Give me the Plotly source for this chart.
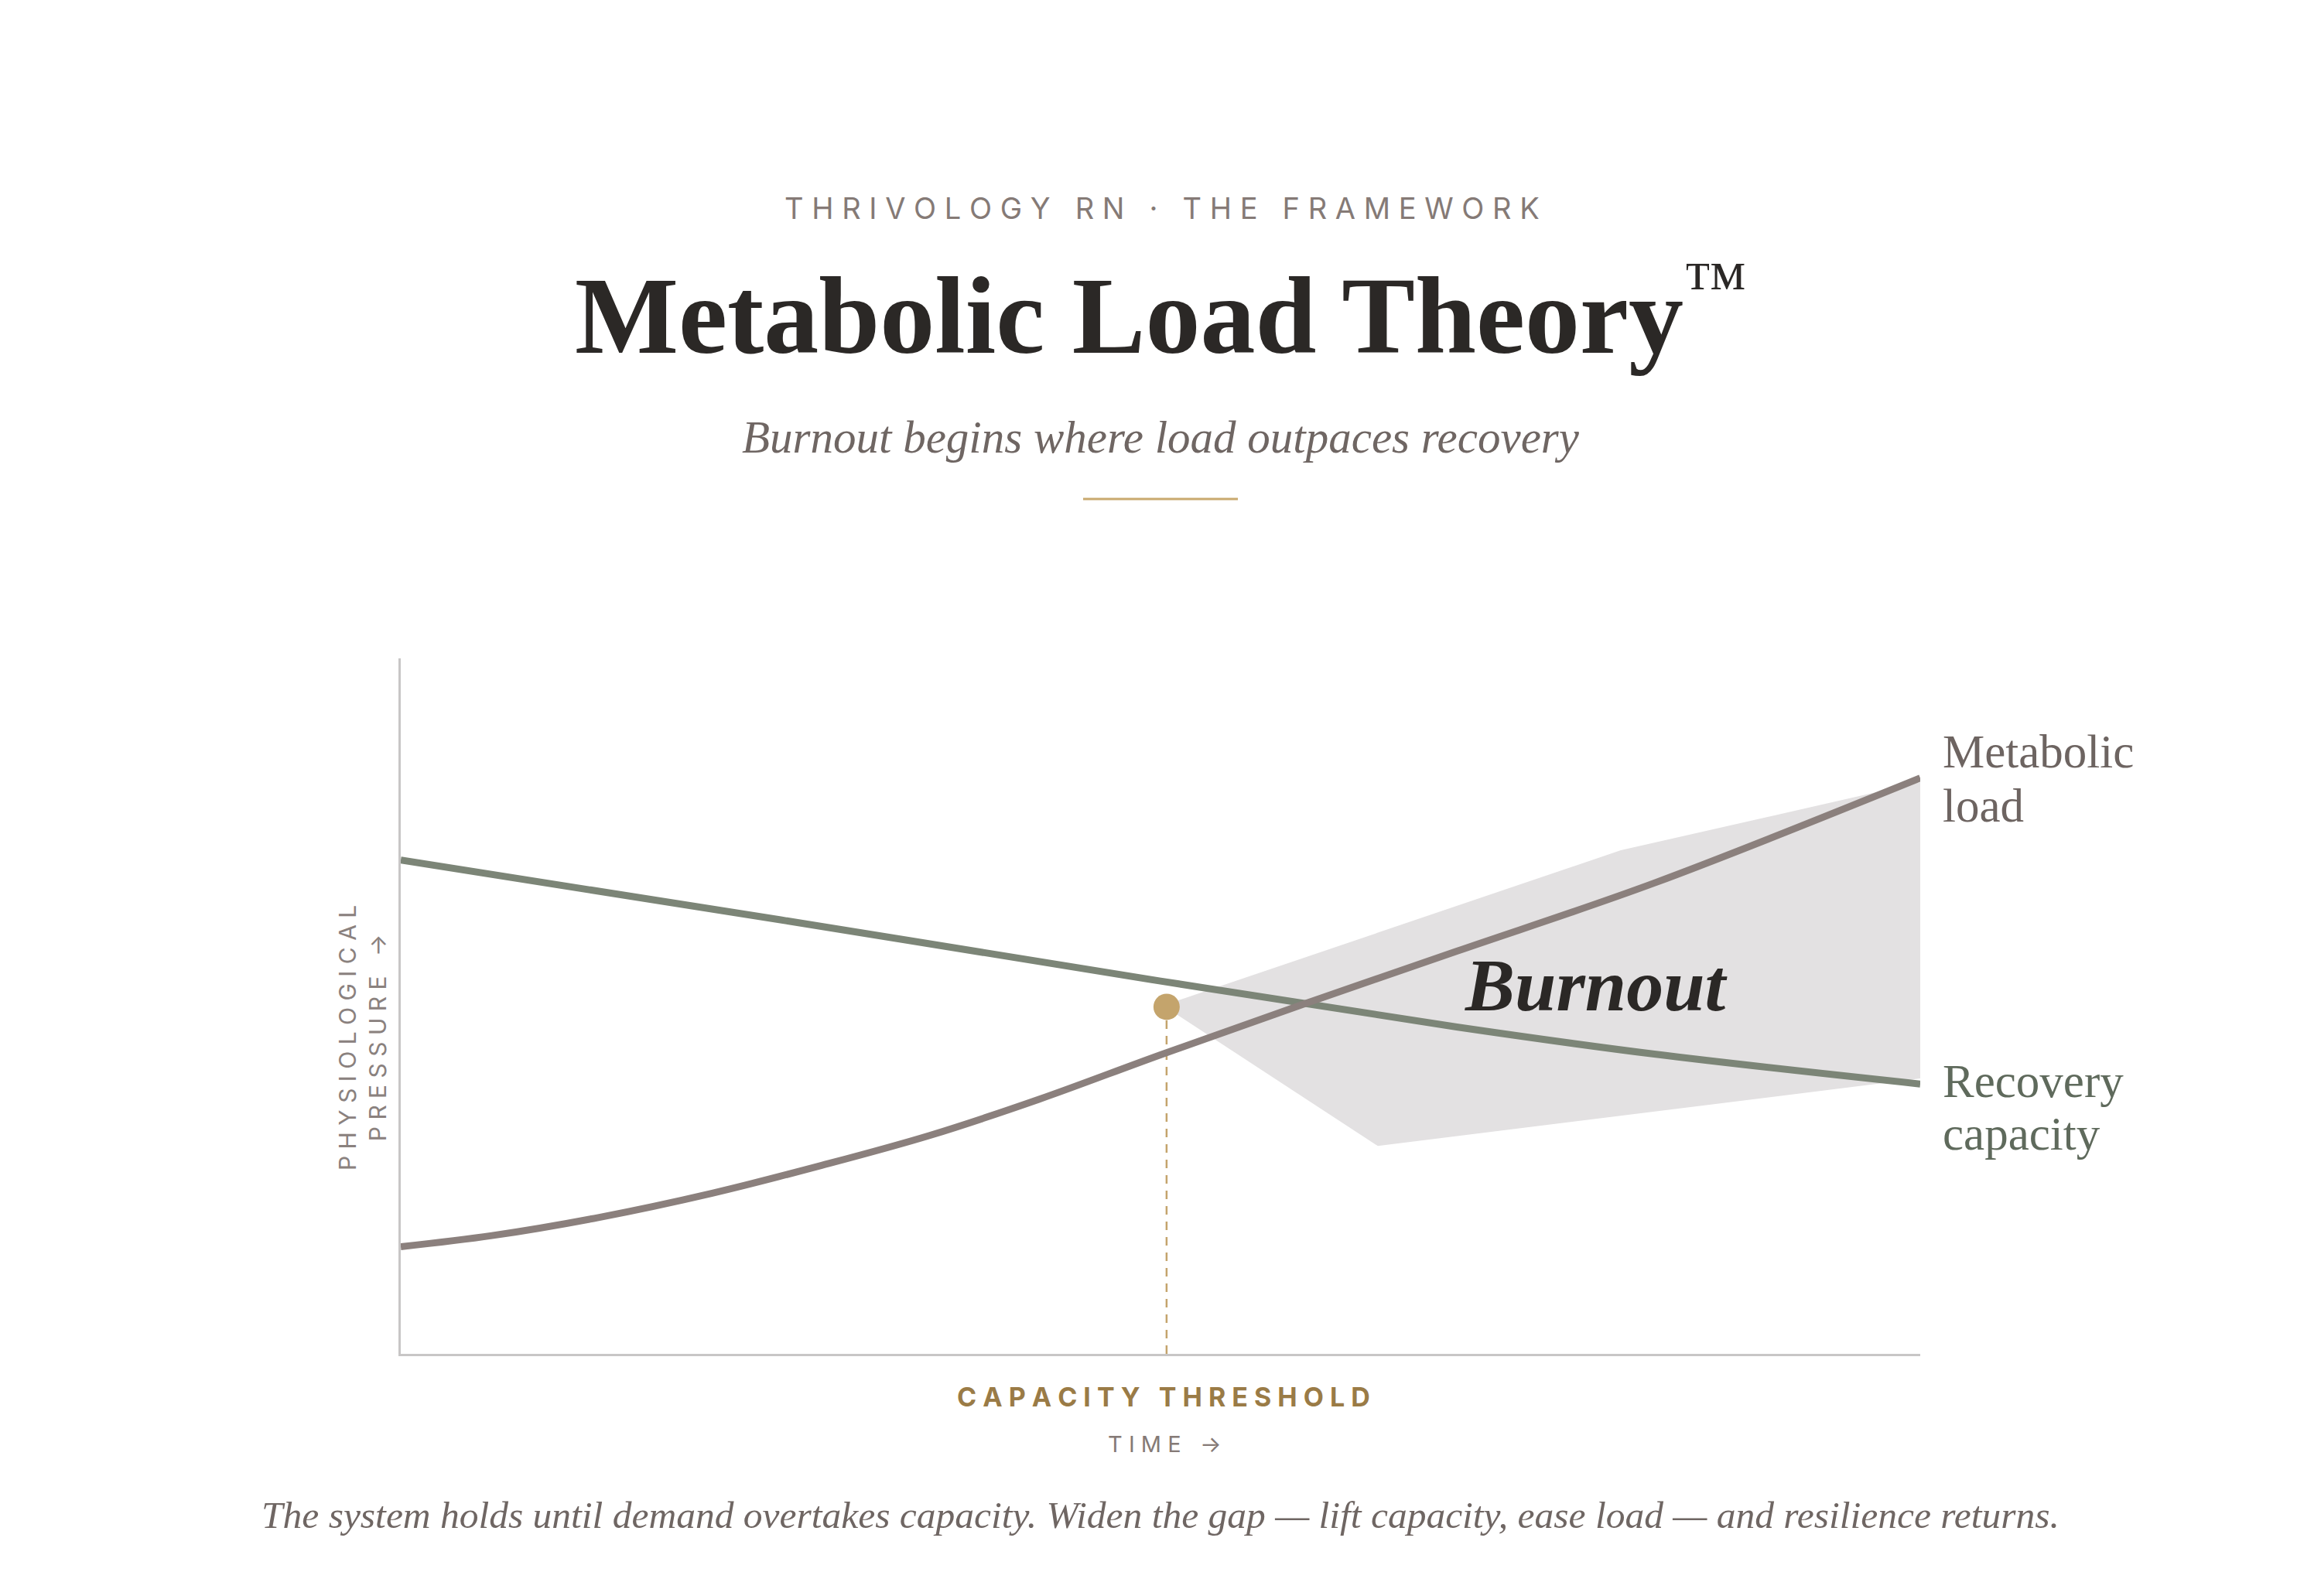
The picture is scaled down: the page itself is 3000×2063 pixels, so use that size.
import plotly.graph_objects as go

# 数据（时间轴 0-100，纵轴 0-100）
time_pts_recovery = [0, 25, 50, 69.5, 82.5, 100]
recovery_capacity = [71.0, 62.4, 53.6, 47.0, 43.1, 38.8]

time_pts_load = [0, 6, 13, 20.5, 27.7, 34.8, 42, 50, 59.3, 69.5, 82.5, 100]
metabolic_load = [15.4, 17.0, 19.6, 23.1, 27.1, 31.4, 36.6, 43.0, 50.2, 57.9, 67.7, 82.8]

burnout_x = [51.0, 80.3, 100, 100, 64.3, 51.0]
burnout_y = [50.7, 72.4, 82.2, 39.6, 29.9, 48.9]

threshold_x = [50.4]
threshold_y = [49.9]

# 画布与绘图区（像素，页面 body 有 8px 边距）
W, H = 3000, 2063
OFF = 8
L, R, T, B = 518 - OFF, 518 + OFF, 851 - OFF, 313 + OFF
PW, PH = W - L - R, H - T - B


def px(x):
    return (x - OFF - L) / PW


def py(y):
    return (H - B + OFF - y) / PH


def track(text, gap="\u00a0"):
    # 模拟字间距
    return (gap * 3).join(gap.join(w) for w in text.split(" "))


fig = go.Figure()

# Burnout 区域
fig.add_trace(go.Scatter(
    x=burnout_x, y=burnout_y, fill='toself', mode='lines',
    fillcolor='#e3e1e2', line=dict(width=0), hoverinfo='skip', showlegend=False
))

# 阈值虚线
fig.add_trace(go.Scatter(
    x=threshold_x * 2, y=[0, threshold_y[0]], mode='lines',
    line=dict(color='#c4a46c', width=2.5, dash='11px,9px'),
    showlegend=False, cliponaxis=False
))

# 恢复能力
fig.add_trace(go.Scatter(
    x=time_pts_recovery, y=recovery_capacity, mode='lines',
    line=dict(color='#7c8577', width=9, shape='spline', smoothing=1.0),
    showlegend=False, cliponaxis=False
))

# 代谢负荷
fig.add_trace(go.Scatter(
    x=time_pts_load, y=metabolic_load, mode='lines',
    line=dict(color='#8b807d', width=9, shape='spline', smoothing=1.0),
    showlegend=False, cliponaxis=False
))

# 阈值点
fig.add_trace(go.Scatter(
    x=threshold_x, y=threshold_y, mode='markers',
    marker=dict(color='#c4a46c', size=34, line=dict(width=0)),
    showlegend=False, cliponaxis=False
))

serif = 'Liberation Serif'
sans = 'Inter'

annotations = [
    # 顶部小标题
    dict(x=px(1502), y=py(269), text=track('THRIVOLOGY RN · THE FRAMEWORK'),
         font=dict(family=sans, size=38, color='#857a76')),
    # 主标题
    dict(x=px(1500), y=py(404),
         text='<b>Metabolic Load Theory</b><sup><span style="font-size:84px">™</span></sup>',
         font=dict(family=serif, size=142, color='#2b2826')),
    # 副标题
    dict(x=px(1500), y=py(565), text='<i>Burnout begins where load outpaces recovery</i>',
         font=dict(family=serif, size=59, color='#6f6663')),
    # 曲线标签
    dict(x=px(2509), y=py(971), text='Metabolic', xanchor='left',
         font=dict(family=serif, size=61, color='#6d6461')),
    dict(x=px(2509), y=py(1041), text='load', xanchor='left',
         font=dict(family=serif, size=61, color='#6d6461')),
    dict(x=px(2509), y=py(1397), text='Recovery', xanchor='left',
         font=dict(family=serif, size=61, color='#5f6a5c')),
    dict(x=px(2509), y=py(1465), text='capacity', xanchor='left',
         font=dict(family=serif, size=61, color='#5f6a5c')),
    # Burnout
    dict(x=px(2063), y=py(1273), text='<b><i>Burnout</i></b>',
         font=dict(family=serif, size=96, color='#2b2826')),
    # 轴标签
    dict(x=px(468), y=py(1342), text=track('PHYSIOLOGICAL') + '<br>' + track('PRESSURE →'),
         textangle=-90, font=dict(family=sans, size=30, color='#8a817e')),
    dict(x=px(1504), y=py(1805), text='<b>' + track('CAPACITY THRESHOLD') + '</b>',
         font=dict(family=sans, size=34, color='#9a7b46')),
    dict(x=px(1505), y=py(1866), text=track('TIME →'),
         font=dict(family=sans, size=29, color='#857a76')),
    # 底部说明
    dict(x=px(1500), y=py(1958),
         text='<i>The system holds until demand overtakes capacity. Widen the gap — lift capacity, ease load — and resilience returns.</i>',
         font=dict(family=serif, size=49.5, color='#6f6663')),
]

for a in annotations:
    a.setdefault('xanchor', 'center')
    a.setdefault('yanchor', 'middle')
    fig.add_annotation(xref='paper', yref='paper', showarrow=False, **a)

# 金色分隔线
fig.add_shape(type='line', xref='paper', yref='paper',
              x0=px(1400), x1=px(1600), y0=py(645), y1=py(645),
              line=dict(color='#c9a96e', width=3))

fig.update_layout(
    width=W, height=H,
    margin=dict(l=L, r=R, t=T, b=B),
    paper_bgcolor='white',
    plot_bgcolor='white',
    showlegend=False,
    xaxis=dict(range=[0, 100], showgrid=False, zeroline=False, showticklabels=False,
               ticks='', showline=True, linecolor='#c8c6c6', linewidth=3, fixedrange=True),
    yaxis=dict(range=[0, 100], showgrid=False, zeroline=False, showticklabels=False,
               ticks='', showline=True, linecolor='#c8c6c6', linewidth=3, fixedrange=True),
)

fig.write_html("out.html")
